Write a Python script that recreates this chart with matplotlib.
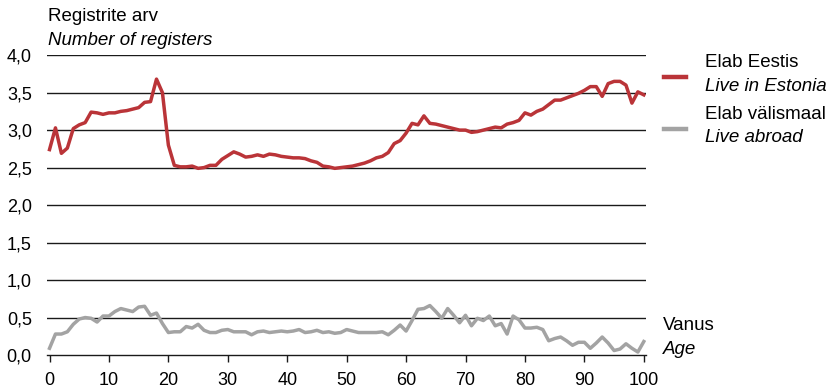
import numpy as np
import matplotlib
matplotlib.use("Agg")
import matplotlib.pyplot as plt
from matplotlib.lines import Line2D

plt.rcParams['font.family'] = ['Liberation Sans', 'DejaVu Sans']

# ***Data***
ages = np.arange(0, 101)

live_in_estonia = [
    2.74, 3.03, 2.69, 2.76, 3.02, 3.07, 3.10, 3.24, 3.23, 3.21,
    3.23, 3.23, 3.25, 3.26, 3.28, 3.30, 3.37, 3.38, 3.68, 3.50,
    2.80, 2.53, 2.51, 2.51, 2.52, 2.49, 2.50, 2.53, 2.53, 2.61,
    2.66, 2.71, 2.68, 2.64, 2.65, 2.67, 2.65, 2.68, 2.67, 2.65,
    2.64, 2.63, 2.63, 2.62, 2.59, 2.57, 2.52, 2.51, 2.49, 2.50,
    2.51, 2.52, 2.54, 2.56, 2.59, 2.63, 2.65, 2.70, 2.82, 2.86,
    2.96, 3.09, 3.07, 3.19, 3.09, 3.08, 3.06, 3.04, 3.02, 3.00,
    3.00, 2.97, 2.98, 3.00, 3.02, 3.04, 3.03, 3.08, 3.10, 3.13,
    3.23, 3.20, 3.25, 3.28, 3.34, 3.40, 3.40, 3.43, 3.46, 3.49,
    3.53, 3.58, 3.58, 3.45, 3.62, 3.65, 3.65, 3.60, 3.36, 3.51,
    3.47,
]

live_abroad = [
    0.09, 0.28, 0.28, 0.31, 0.41, 0.48, 0.50, 0.49, 0.44, 0.52,
    0.52, 0.58, 0.62, 0.60, 0.58, 0.64, 0.65, 0.53, 0.56, 0.42,
    0.30, 0.31, 0.31, 0.38, 0.36, 0.41, 0.33, 0.30, 0.30, 0.33,
    0.34, 0.31, 0.31, 0.31, 0.27, 0.31, 0.32, 0.30, 0.31, 0.32,
    0.31, 0.32, 0.34, 0.30, 0.31, 0.33, 0.30, 0.31, 0.29, 0.30,
    0.34, 0.32, 0.30, 0.30, 0.30, 0.30, 0.31, 0.27, 0.33, 0.40,
    0.32, 0.46, 0.61, 0.62, 0.66, 0.58, 0.49, 0.62, 0.53, 0.43,
    0.53, 0.39, 0.49, 0.46, 0.52, 0.39, 0.42, 0.28, 0.52, 0.47,
    0.36, 0.36, 0.37, 0.34, 0.19, 0.22, 0.24, 0.19, 0.13, 0.17,
    0.17, 0.09, 0.16, 0.24, 0.16, 0.06, 0.08, 0.15, 0.09, 0.04,
    0.18,
]

y_ticks = [0.0, 0.5, 1.0, 1.5, 2.0, 2.5, 3.0, 3.5, 4.0]
x_ticks = list(range(0, 101, 10))

red = '#BA3438'
grey = '#A3A3A3'
fs = 13.5

# ***Figure***
fig = plt.figure(figsize=(8.27, 3.91), dpi=100)
ax = fig.add_axes([0.057, 0.092, 0.724, 0.767])

# horizontal gridlines
for yv in y_ticks[1:]:
    ax.axhline(yv, color='#1a1a1a', lw=1.0, zorder=1)

ax.plot(ages, live_abroad, color=grey, lw=2.5, zorder=3)
ax.plot(ages, live_in_estonia, color=red, lw=2.5, zorder=3)

ax.set_xlim(-0.4, 100.35)
ax.set_ylim(0, 4.0)

ax.set_yticks(y_ticks)
ax.set_yticklabels([f'{v:.1f}'.replace('.', ',') for v in y_ticks])
ax.set_xticks(x_ticks)
ax.set_xticklabels([str(v) for v in x_ticks])

for s in ['top', 'right', 'left']:
    ax.spines[s].set_visible(False)
ax.spines['bottom'].set_color('#1a1a1a')
ax.spines['bottom'].set_linewidth(1.0)

ax.tick_params(axis='y', length=0, pad=11, labelsize=13)
ax.tick_params(axis='x', direction='out', length=5, width=1,
               color='#1a1a1a', pad=7, labelsize=13)

# axis titles
fig.text(0.058, 0.958, 'Registrite arv', fontsize=fs, va='center')
fig.text(0.058, 0.897, 'Number of registers', fontsize=fs,
         style='italic', va='center')
fig.text(0.801, 0.167, 'Vanus', fontsize=fs, va='center')
fig.text(0.801, 0.107, 'Age', fontsize=fs, style='italic', va='center')

# legend
fig.add_artist(Line2D([0.803, 0.829], [0.804, 0.804], color=red, lw=3.2))
fig.add_artist(Line2D([0.803, 0.829], [0.670, 0.670], color=grey, lw=3.2))
fig.text(0.852, 0.841, 'Elab Eestis', fontsize=fs, va='center')
fig.text(0.852, 0.780, 'Live in Estonia', fontsize=fs, style='italic',
         va='center')
fig.text(0.852, 0.706, 'Elab välismaal', fontsize=fs, va='center')
fig.text(0.852, 0.648, 'Live abroad', fontsize=fs, style='italic',
         va='center')

fig.savefig('out.png', dpi=100)
